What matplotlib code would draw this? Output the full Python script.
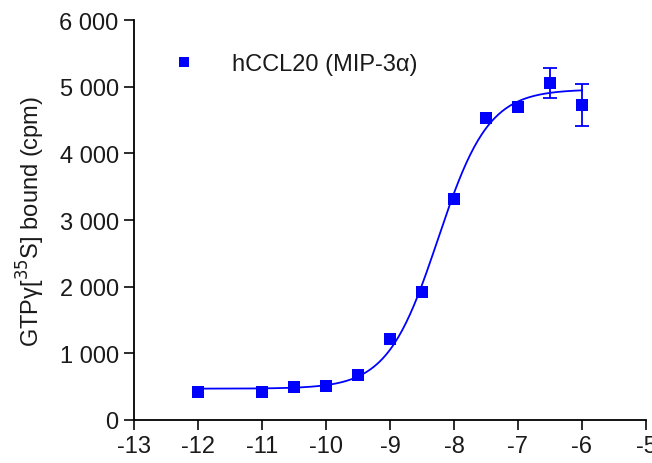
import numpy as np
import matplotlib.pyplot as plt
from matplotlib.ticker import FuncFormatter, MultipleLocator

plt.rcParams['font.family'] = ['Liberation Sans', 'DejaVu Sans']
plt.rcParams['axes.unicode_minus'] = False

# log[agonist] (M) y respuesta medida
log_conc = [-12, -11, -10.5, -10, -9.5, -9, -8.5, -8, -7.5, -7, -6.5, -6]
bound = [420, 420, 495, 510, 675, 1215, 1920, 3315, 4530, 4690, 5055, 4730]
sem = [0, 0, 0, 0, 0, 0, 0, 0, 0, 0, 230, 315]

# parámetros del ajuste sigmoidal
fit_bottom, fit_top, fit_logec50, fit_hill = 470, 4960, -8.25, 1.1
fit_range = (-12, -6)

blue = "#0000ff"
fs = 17

fig = plt.figure(figsize=(6.52, 4.64), dpi=100)
ax = fig.add_axes([0.2055, 0.0927, 0.7853, 0.862])

xc = np.linspace(fit_range[0], fit_range[1], 300)
yc = fit_bottom + (fit_top - fit_bottom) / (1 + 10 ** ((fit_logec50 - xc) * fit_hill))
ax.plot(xc, yc, color=blue, lw=1.3)

# barras de error solo donde hay SEM
idx = [i for i, e in enumerate(sem) if e > 0]
ax.errorbar([log_conc[i] for i in idx], [bound[i] for i in idx],
            yerr=[sem[i] for i in idx], fmt="none", ecolor=blue,
            elinewidth=1.3, capsize=5, capthick=1.3)
ax.plot(log_conc, bound, "s", color=blue, ms=8.5, mew=0, label="hCCL20 (MIP-3α)")

ax.set_xlim(-13, -5) ; ax.set_ylim(0, 6000)
ax.xaxis.set_major_locator(MultipleLocator(1))
ax.yaxis.set_major_locator(MultipleLocator(1000))
ax.yaxis.set_major_formatter(FuncFormatter(lambda v, p: f"{v:,.0f}".replace(",", " ")))

for s in ["top", "right"]:
	ax.spines[s].set_visible(False)
for s in ["left", "bottom"]:
	ax.spines[s].set_linewidth(1.3)
ax.tick_params(direction="out", length=7, width=1.3, labelsize=fs, pad=4, colors="#1a1a1a")

ax.set_ylabel("GTPγ[$^{35}$S] bound (cpm)", fontsize=fs, labelpad=9, color="#1a1a1a")

ax.legend(loc="center left", bbox_to_anchor=(0.08, 0.89), frameon=False,
          fontsize=fs, handlelength=0.8, handletextpad=1.6, borderpad=0,
          borderaxespad=0, markerscale=0.85, labelcolor="#1a1a1a")

fig.savefig("out.png", dpi=100)
